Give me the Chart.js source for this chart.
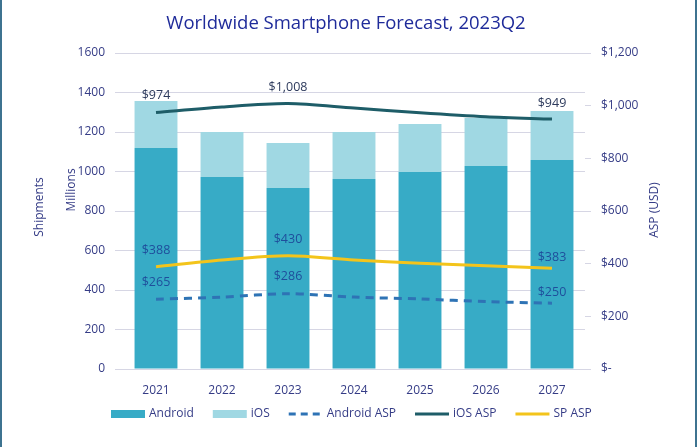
<!DOCTYPE html>
<html>
<head>
<meta charset="utf-8">
<script src="https://cdn.jsdelivr.net/npm/chart.js@4"></script>
<style>
  html, body { margin: 0; padding: 0; background: #fff; }
  #wrap { position: relative; width: 697px; height: 447px; box-sizing: border-box;
          border-left: 2px solid #3d7390; border-right: 2px solid #3d7390; }
  canvas { display: block; }
</style>
</head>
<body>
<div id="wrap"><canvas id="forecast-chart" width="693" height="447"></canvas></div>
<script>
  // Chart data
  const years = ['2021', '2022', '2023', '2024', '2025', '2026', '2027'];
  const androidShipments = [1119, 972, 916, 962, 997, 1028, 1058];
  const iosShipments = [238, 228, 228, 238, 243, 243, 248];
  const androidAsp = [265, 273, 286, 273, 266, 256, 250];
  const iosAsp = [974, 995, 1008, 991, 973, 958, 949];
  const spAsp = [388, 414, 430, 414, 402, 392, 383];
  const shipmentTicks = ['0', '200', '400', '600', '800', '1000', '1200', '1400', '1600'];
  const aspTicks = ['$-', '$200', '$400', '$600', '$800', '$1,000', '$1,200'];
  // indexes that get a value label on the ASP lines
  const labelled = [0, 2, 6];

  const textColor = '#353c86';
  const font = 'Open Sans';

  const extrasPlugin = {
    id: 'extras',
    afterDraw(chart) {
      const c = chart.ctx;
      c.save();
      // title
      c.fillStyle = '#1f2b9a';
      c.font = '18.5px "' + font + '"';
      c.textAlign = 'center';
      c.textBaseline = 'middle';
      c.fillText('Worldwide Smartphone Forecast, 2023Q2', 344, 24);

      // axis titles
      c.fillStyle = textColor;
      c.font = '12px "' + font + '"';
      [['Shipments', 38, 207], ['Millions', 70, 190], ['ASP (USD)', 653, 210]].forEach(([t, x, y]) => {
        c.save();
        c.translate(x, y);
        c.rotate(-Math.PI / 2);
        c.fillText(t, 0, 0);
        c.restore();
      });

      // value labels on ASP lines
      const labelSets = [
        { ds: 2, color: '#1f4e9c', off: [17, 17, 11] },
        { ds: 3, color: '#2d3a5c', off: [17, 16, 16] },
        { ds: 4, color: '#1f4e9c', off: [16, 16, 11] }
      ];
      c.font = '12.5px "' + font + '"';
      labelSets.forEach(s => {
        const meta = chart.getDatasetMeta(s.ds);
        const vals = chart.data.datasets[s.ds].data;
        labelled.forEach((i, k) => {
          const p = meta.data[i];
          c.fillStyle = s.color;
          c.fillText('$' + vals[i].toLocaleString('en-US'), p.x, p.y - s.off[k]);
        });
      });

      // legend
      const items = [
        { type: 'box', color: '#37abc6', label: 'Android' },
        { type: 'box', color: '#a0d8e3', label: 'iOS' },
        { type: 'dash', color: '#2e73b5', label: 'Android ASP' },
        { type: 'line', color: '#1e5d68', label: 'iOS ASP' },
        { type: 'line', color: '#f3c41b', label: 'SP ASP' }
      ];
      const ly = 414;
      c.textAlign = 'left';
      c.font = '12px "' + font + '"';
      let x = 109;
      items.forEach(it => {
        if (it.type === 'box') {
          c.fillStyle = it.color;
          c.fillRect(x, ly - 4, 34, 8);
        } else {
          c.strokeStyle = it.color;
          c.lineWidth = 3;
          c.setLineDash(it.type === 'dash' ? [7, 5] : []);
          c.beginPath();
          c.moveTo(x, ly);
          c.lineTo(x + 34, ly);
          c.stroke();
          c.setLineDash([]);
        }
        c.fillStyle = textColor;
        c.fillText(it.label, x + 38, ly);
        x += 38 + c.measureText(it.label).width + 19;
      });
      c.restore();
    }
  };

  new Chart(document.getElementById('forecast-chart'), {
    type: 'bar',
    data: {
      labels: years,
      datasets: [
        { label: 'Android', data: androidShipments, backgroundColor: '#37abc6', yAxisID: 'y', stack: 's', order: 2,
          barPercentage: 0.65, categoryPercentage: 1 },
        { label: 'iOS', data: iosShipments, backgroundColor: '#a0d8e3', yAxisID: 'y', stack: 's', order: 2,
          barPercentage: 0.65, categoryPercentage: 1 },
        { type: 'line', label: 'Android ASP', data: androidAsp, yAxisID: 'y2', borderColor: '#2e73b5',
          borderWidth: 3, borderDash: [8, 6], pointRadius: 0, tension: 0.3, order: 1 },
        { type: 'line', label: 'iOS ASP', data: iosAsp, yAxisID: 'y2', borderColor: '#1e5d68',
          borderWidth: 3, pointRadius: 0, tension: 0.3, order: 1 },
        { type: 'line', label: 'SP ASP', data: spAsp, yAxisID: 'y2', borderColor: '#f3c41b',
          borderWidth: 3, pointRadius: 0, tension: 0.3, order: 1 }
      ]
    },
    options: {
      responsive: false,
      animation: false,
      layout: { padding: { top: 53, left: 0, right: 0, bottom: 0 } },
      plugins: { legend: { display: false }, tooltip: { enabled: false } },
      scales: {
        x: {
          stacked: true,
          grid: { display: false },
          border: { display: false },
          ticks: { color: textColor, font: { family: font, size: 12 }, padding: 6 },
          afterFit(scale) { scale.height = 78; }
        },
        y: {
          stacked: true,
          position: 'left',
          min: 0, max: 1600,
          afterBuildTicks(scale) { scale.ticks = shipmentTicks.map(t => ({ value: Number(t) })); },
          grid: { color: '#d6d6e4', tickLength: 8 },
          border: { display: false },
          ticks: {
            color: textColor, font: { family: font, size: 12 }, padding: 10,
            callback: (v, i) => shipmentTicks[i]
          },
          afterFit(scale) { scale.width = 121; }
        },
        y2: {
          position: 'right',
          min: 0, max: 1200,
          afterBuildTicks(scale) { scale.ticks = aspTicks.map((t, i) => ({ value: i * 200 })); },
          grid: { display: true, drawOnChartArea: false, color: '#d6d6e4', tickLength: 6 },
          border: { display: false },
          ticks: {
            color: textColor, font: { family: font, size: 12 }, padding: 10,
            callback: (v, i) => aspTicks[i]
          },
          afterFit(scale) { scale.width = 110; }
        }
      }
    },
    plugins: [extrasPlugin]
  });
</script>
</body>
</html>
